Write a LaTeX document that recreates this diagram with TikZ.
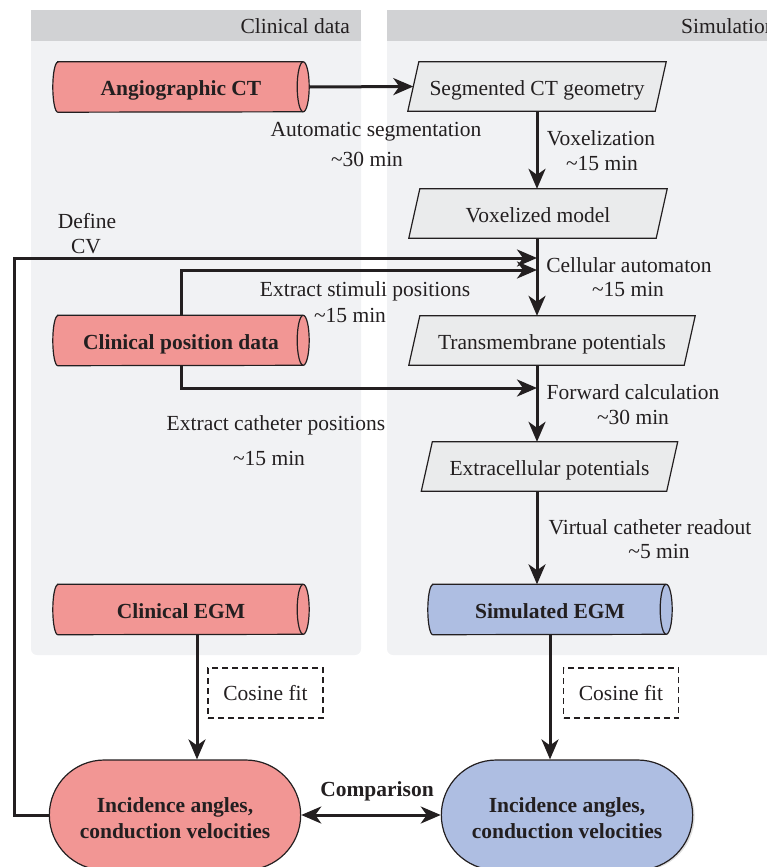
\documentclass[tikz,border=0pt]{standalone}
\usepackage{fontspec}
\setmainfont{Liberation Serif}
\usetikzlibrary{shapes.misc,arrows.meta,shadows}
\pgfdeclarelayer{bg}
\pgfdeclarelayer{shp}
\pgfsetlayers{bg,shp,main}
\definecolor{txt}{HTML}{231F20}
\definecolor{hdr}{HTML}{D1D2D4}
\definecolor{pnl}{HTML}{F1F2F4}
\definecolor{pgray}{HTML}{EAEBEC}
\definecolor{clinc}{HTML}{F29694}
\definecolor{simc}{HTML}{AEBEE2}
\tikzset{
  tip/.tip={Stealth[length=20pt,width=17pt,inset=6pt]},
  conn/.style={draw=txt, line width=3pt, -tip},
  ctext/.style={text height=22pt, text depth=5pt},
  parabox/.style={rectangle, minimum height=49pt, inner sep=0pt, ctext},
  cylbox/.style={rectangle, minimum height=50pt, inner sep=0pt, ctext,
    font=\fontsize{21.5}{25}\selectfont\bfseries},
  outl/.style={draw=txt, line width=1.2pt},
  stadium/.style={rounded rectangle, minimum width=258pt, minimum height=110pt,
    outl, align=center, font=\fontsize{21.5}{26}\selectfont\bfseries},
  cosbox/.style={draw=txt, dash pattern=on 6pt off 4pt, line width=1.1pt,
    minimum width=115pt, minimum height=50pt, fill=white, inner sep=0pt,
    text height=21.4pt, text depth=6pt},
  lbl/.style={inner sep=0pt, anchor=base}
}
\newcommand\drawcyl[2]{%
  \filldraw[outl, fill=#2] ([xshift=5pt]#1.north west) -- ([xshift=-6pt]#1.north east)
    arc[start angle=90, end angle=-90, x radius=6pt, y radius=25pt]
    -- ([xshift=5pt]#1.south west)
    arc[start angle=270, end angle=90, x radius=5pt, y radius=25pt] -- cycle;
  \draw[outl] ([xshift=-6pt]#1.north east)
    arc[start angle=90, end angle=270, x radius=6pt, y radius=25pt];
}
\newcommand\drawpara[1]{%
  \filldraw[outl, fill=pgray] ([xshift=5.5pt]#1.north west) -- ([xshift=5.5pt]#1.north east)
    -- ([xshift=-5.5pt]#1.south east) -- ([xshift=-5.5pt]#1.south west) -- cycle;
}
\begin{document}
\begin{tikzpicture}[x=1pt,y=-1pt, font=\fontsize{21.5}{25}\selectfont, text=txt]
\useasboundingbox (0,0) rectangle (767,867);
\clip (0,0) rectangle (767,867);
% panels
\begin{pgfonlayer}{bg}
\fill[pnl, rounded corners=6pt] (31,25) rectangle (361,655);
\fill[hdr] (31,10) rectangle (361,41);
\fill[pnl, rounded corners=6pt] (387,25) rectangle (800,655);
\fill[hdr] (387,10) rectangle (800,41);
\end{pgfonlayer}
\node[inner sep=0pt, anchor=base east] (hclin) at (350,34) {Clinical data};
\node[inner sep=0pt, anchor=base west] (hsim) at (681,34) {Simulation};

% clinical nodes
\node[cylbox, minimum width=256pt] (angio) at (181,87) {Angiographic CT};
\node[cylbox, minimum width=256pt] (pos) at (181,340.5) {Clinical position data};
\node[cylbox, minimum width=256pt] (clin) at (181,609.5) {Clinical EGM};

% simulation nodes
\node[parabox, minimum width=247pt] (seg) at (537,86.5) {Segmented CT geometry};
\node[parabox, minimum width=247pt] (vox) at (538,213.5) {Voxelized model};
\node[parabox, minimum width=275pt] (trans) at (552,340.5) {Transmembrane potentials};
\node[parabox, minimum width=245pt] (extra) at (549.5,466.5) {Extracellular potentials};
\node[cylbox, minimum width=244pt] (sim) at (550,609.5) {Simulated EGM};

\begin{pgfonlayer}{shp}
\drawcyl{angio}{clinc}
\drawcyl{pos}{clinc}
\drawcyl{clin}{clinc}
\drawcyl{sim}{simc}
\drawpara{seg}
\drawpara{vox}
\drawpara{trans}
\drawpara{extra}
\end{pgfonlayer}

% results
\node[stadium, fill=clinc] (incL) at (175,815) {\rule{0pt}{22pt}Incidence angles,\\conduction velocities};
\node[stadium, fill=simc, drop shadow={shadow xshift=2pt, shadow yshift=-1pt, opacity=0.25}] (incR) at (567,815) {\rule{0pt}{22pt}Incidence angles,\\conduction velocities};

\node[cosbox] (cosL) at (265.5,693) {Cosine fit};
\node[cosbox] (cosR) at (621,693) {Cosine fit};

% labels (anchored at baseline)
\node[lbl] (l1a) at (376,136) {Automatic segmentation};
\node[lbl] (l1b) at (367,166) {\textasciitilde30 min};
\node[lbl] (l2a) at (601,145.5) {Voxelization};
\node[lbl] (l2b) at (602,170) {\textasciitilde15 min};
\node[lbl] (l3a) at (87,228.5) {Define};
\node[lbl] (l3b) at (86,253.5) {CV};
\node[lbl] (l4a) at (629,272.5) {Cellular automaton};
\node[lbl] (l4b) at (628,296.5) {\textasciitilde15 min};
\node[lbl] (l5a) at (365,296) {Extract stimuli positions};
\node[lbl] (l5b) at (350,322) {\textasciitilde15 min};
\node[lbl] (l6a) at (633,399) {Forward calculation};
\node[lbl] (l6b) at (633,424) {\textasciitilde30 min};
\node[lbl] (l7a) at (276,430.5) {Extract catheter positions};
\node[lbl] (l7b) at (269,465) {\textasciitilde15 min};
\node[lbl] (l8a) at (650,534) {Virtual catheter readout};
\node[lbl] (l8b) at (659,558.5) {\textasciitilde5 min};
\node[lbl, font=\fontsize{21.5}{25}\selectfont\bfseries] (cmp) at (377,796) {Comparison};

% connectors
\coordinate (sp) at (537,0);
\coordinate (jA) at (537,258);
\coordinate (jB) at (537,270);
\coordinate (jC) at (537,388);
\draw[conn] (angio.east) -- (seg.west);
\draw[conn] (seg.south -| sp) -- (vox.north -| sp);
\draw[conn] (vox.south -| sp) -- (trans.north -| sp);
\draw[conn] (trans.south -| sp) -- (extra.north -| sp);
\draw[conn] (extra.south -| sp) -- (sim.north -| sp);
\draw[conn] (incL.west) -- ++(-34,0) |- (jA);
\draw[conn] (pos.north) |- (jB);
\draw[conn] (pos.south) |- (jC);
\draw[conn] ([xshift=16pt]clin.south) -- ([xshift=16pt]clin.south |- incL.north);
\draw[conn] (sim.south) -- (sim.south |- incR.north);
\draw[conn, tip-tip] (incL.east) -- (incR.west);
\end{tikzpicture}
\end{document}
